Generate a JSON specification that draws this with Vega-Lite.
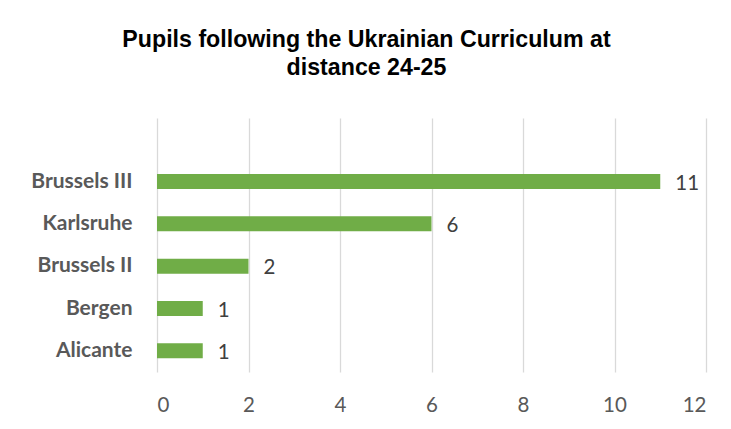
{
  "$schema": "https://vega.github.io/schema/vega-lite/v6.json",
  "width": 549,
  "height": 254,
  "autosize": {"type": "none"},
  "padding": {"left": 157, "top": 118, "right": 25, "bottom": 57},
  "background": "white",
  "title": {
    "text": ["Pupils following the Ukrainian Curriculum at", "distance  24-25"],
    "font": "Liberation Sans",
    "fontSize": 23.2,
    "fontWeight": "bold",
    "color": "#000000",
    "lineHeight": 28,
    "anchor": "middle",
    "frame": "group",
    "dx": -65,
    "offset": 38
  },
  "data": {
    "values": [
      {"school": "Brussels III", "pupils": 11},
      {"school": "Karlsruhe", "pupils": 6},
      {"school": "Brussels II", "pupils": 2},
      {"school": "Bergen", "pupils": 1},
      {"school": "Alicante", "pupils": 1}
    ]
  },
  "encoding": {
    "y": {
      "field": "school",
      "type": "nominal",
      "sort": null,
      "scale": {
        "domain": [" ", "Brussels III", "Karlsruhe", "Brussels II", "Bergen", "Alicante"],
        "paddingInner": 0.645,
        "paddingOuter": 0.3225
      },
      "axis": {
        "title": null,
        "domain": false,
        "ticks": false,
        "labelPadding": 25,
        "labelFont": "Lato",
        "labelFontWeight": "bold",
        "labelFontSize": 21,
        "labelColor": "#595959",
        "grid": false
      }
    },
    "x": {
      "field": "pupils",
      "type": "quantitative",
      "scale": {"domain": [0, 12], "nice": false},
      "axis": {
        "title": null,
        "values": [0, 2, 4, 6, 8, 10, 12],
        "domain": false,
        "ticks": false,
        "labelPadding": 23,
        "labelFont": "Lato",
        "labelFontSize": 20.5,
        "labelColor": "#595959",
        "grid": true,
        "gridColor": "#d9d9d9",
        "gridWidth": 1.3
      }
    }
  },
  "layer": [
    {"mark": {"type": "bar", "color": "#70AD47"}},
    {
      "mark": {"type": "text", "align": "left", "baseline": "middle", "dx": 15, "dy": 2, "font": "Lato", "fontSize": 20.5, "color": "#404040"},
      "encoding": {"text": {"field": "pupils", "type": "quantitative"}}
    }
  ],
  "config": {"view": {"stroke": null}}
}
